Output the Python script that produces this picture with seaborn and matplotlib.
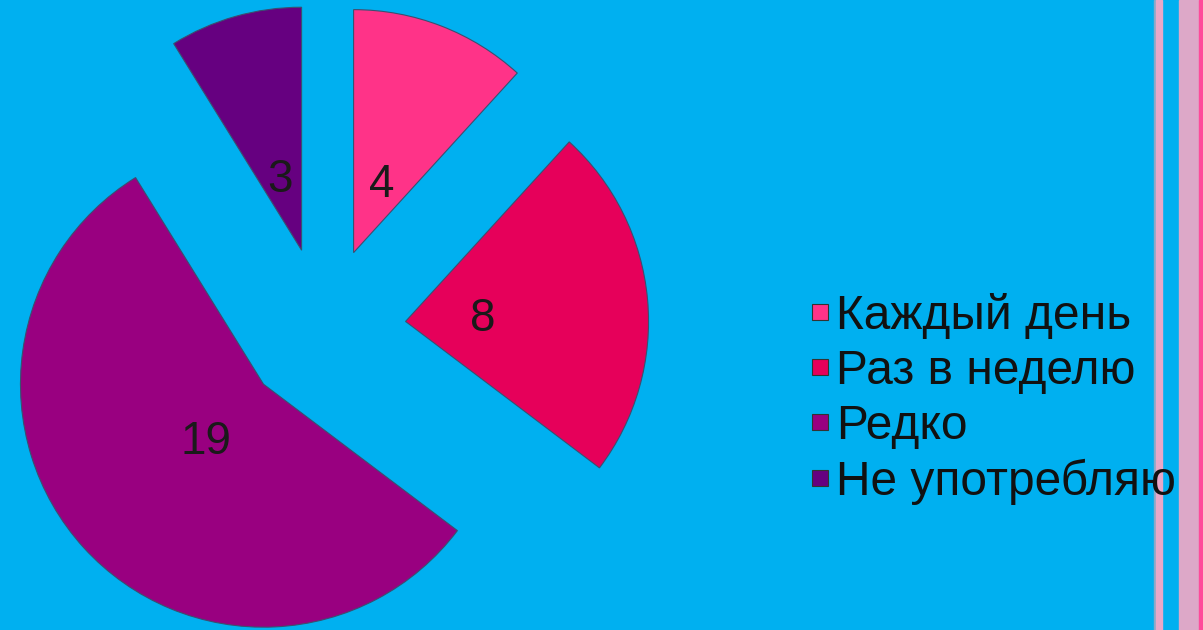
import matplotlib
matplotlib.use("Agg")
import matplotlib.pyplot as plt
import seaborn as sns
from matplotlib.lines import Line2D

categories = ["Каждый день", "Раз в неделю", "Редко", "Не употребляю"]
values = [4, 8, 19, 3]
colors = ["#FF3388", "#E6005A", "#990080", "#660080"]

sns.set_style("white")
plt.rcParams["font.family"] = ["Liberation Sans", "DejaVu Sans"]

BG = "#00B0F0"
W, H = 1203, 630
fig = plt.figure(figsize=(W / 100, H / 100), dpi=100)
fig.patch.set_facecolor(BG)

# decorative stripes on the right
bg = fig.add_axes([0, 0, 1, 1], zorder=-1)
bg.set_xlim(0, W)
bg.set_ylim(0, H)
bg.axis("off")
bg.axvspan(1154, 1155.5, color="#8AA8C8")
bg.axvspan(1155.5, 1162, color="#E8A8C8")
bg.axvspan(1179, 1199, color="#DDA8C8")
bg.axvspan(1199, 1203, color="#FF4A9A")

# pie axes: 1 data unit = R px, centre at (cx, cy from top)
R = 243
cx, cy = 324, H - 329
half = 1.5
ax = fig.add_axes([(cx - half * R) / W, (cy - half * R) / H, 2 * half * R / W, 2 * half * R / H])
ax.set_facecolor("none")
total = sum(values)
wedges, texts, autotexts = ax.pie(
    values,
    colors=colors,
    startangle=90,
    counterclock=False,
    explode=[0.337] * len(values),
    radius=1.0,
    autopct=lambda p: f"{p * total / 100:.0f}",
    pctdistance=0.32,
    wedgeprops=dict(edgecolor="#3A5070", linewidth=0.8),
    textprops=dict(fontsize=33, color="#1a1a1a"),
)
for t in autotexts:
    t.set_va("center_baseline")
ax.set_xlim(-half, half)
ax.set_ylim(-half, half)
ax.set_aspect("equal")
ax.axis("off")

handles = [Line2D([0], [0], linestyle="none", marker="s", markersize=12,
                  markerfacecolor=c, markeredgecolor="#333333", markeredgewidth=0.8)
           for c in colors]
leg = fig.legend(
    handles, categories,
    loc="center left",
    bbox_to_anchor=(811 / W, 1 - 399 / H),
    frameon=False,
    fontsize=34.5,
    handlelength=0.37,
    handletextpad=0.16,
    labelspacing=0.21,
    borderaxespad=0,
    borderpad=0,
)
for t in leg.get_texts():
    t.set_color("#111111")

fig.savefig("out.png", dpi=100, facecolor=BG)
